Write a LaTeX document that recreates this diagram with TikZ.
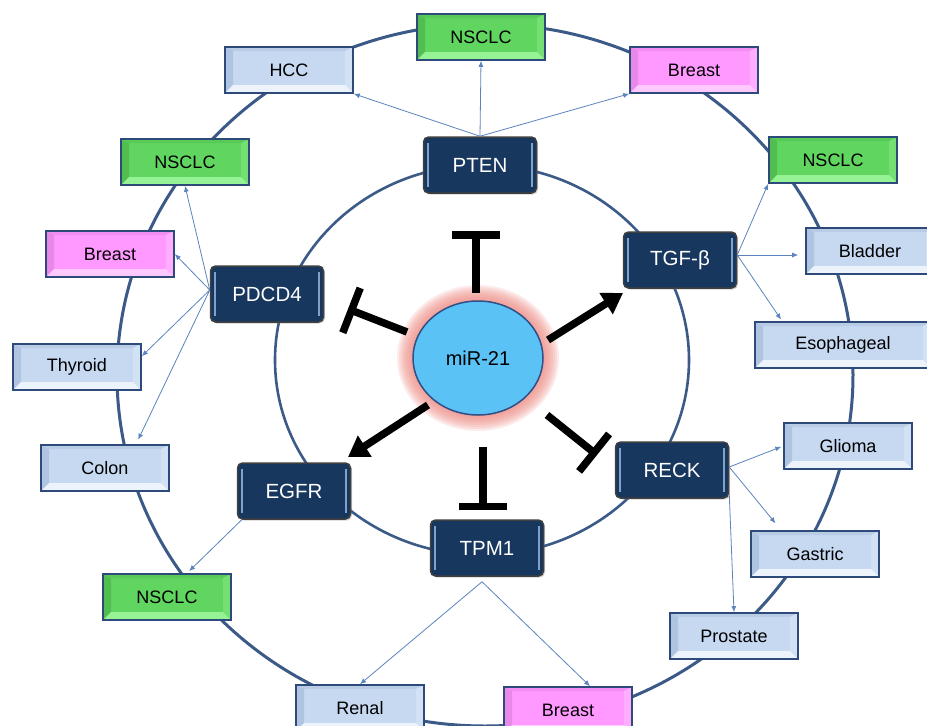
\documentclass[tikz,border=0pt]{standalone}
\usepackage{fontspec}
\setmainfont{Liberation Sans}
\usetikzlibrary{arrows.meta,calc,shapes.geometric,shadows}
\definecolor{ringc}{HTML}{3C5A88}
\definecolor{thinblue}{HTML}{5B84BE}
\definecolor{boxedge}{HTML}{2E4A7A}
\definecolor{navy}{HTML}{17375E}
\definecolor{darkedge}{HTML}{404040}
\definecolor{hlc}{HTML}{7FA2CC}
\definecolor{mirblue}{HTML}{5BC2F6}
\definecolor{miredge}{HTML}{2F4F86}
\definecolor{glowc}{HTML}{F08C84}
\definecolor{bFace}{HTML}{C6D9F1}
\definecolor{bTop}{HTML}{B8CCE5}
\definecolor{bLeft}{HTML}{AEC4E0}
\definecolor{bRight}{HTML}{D2E1F3}
\definecolor{bBot}{HTML}{EDF3FB}
\definecolor{gFace}{HTML}{60D660}
\definecolor{gTop}{HTML}{58CA58}
\definecolor{gLeft}{HTML}{52BE52}
\definecolor{gRight}{HTML}{74E074}
\definecolor{gBot}{HTML}{95F295}
\definecolor{pFace}{HTML}{FF99FF}
\definecolor{pTop}{HTML}{F28EF2}
\definecolor{pLeft}{HTML}{E888E8}
\definecolor{pRight}{HTML}{FFADFF}
\definecolor{pBot}{HTML}{FFC9FF}
\newcommand\mybevel[4]{%
 \fill[#1] (path picture bounding box.north west) -- (path picture bounding box.north east) -- ([shift={(-8pt,-4pt)}]path picture bounding box.north east) -- ([shift={(8pt,-4pt)}]path picture bounding box.north west) -- cycle;
 \fill[#2] (path picture bounding box.north west) -- ([shift={(8pt,-4pt)}]path picture bounding box.north west) -- ([shift={(8pt,8pt)}]path picture bounding box.south west) -- (path picture bounding box.south west) -- cycle;
 \fill[#3] (path picture bounding box.north east) -- ([shift={(-8pt,-4pt)}]path picture bounding box.north east) -- ([shift={(-8pt,8pt)}]path picture bounding box.south east) -- (path picture bounding box.south east) -- cycle;
 \fill[#4] (path picture bounding box.south west) -- ([shift={(8pt,8pt)}]path picture bounding box.south west) -- ([shift={(-8pt,8pt)}]path picture bounding box.south east) -- (path picture bounding box.south east) -- cycle;
}
\tikzset{
 outerbox/.style={rectangle, minimum width=128pt, minimum height=46pt, inner sep=0pt, draw=boxedge, line width=1.6pt, font=\fontsize{18}{20}\selectfont, text=black},
 bluebox/.style={outerbox, fill=bFace, path picture={\mybevel{bTop}{bLeft}{bRight}{bBot}}},
 greenbox/.style={outerbox, fill=gFace, path picture={\mybevel{gTop}{gLeft}{gRight}{gBot}}},
 pinkbox/.style={outerbox, fill=pFace, path picture={\mybevel{pTop}{pLeft}{pRight}{pBot}}},
 darkbox/.style={rectangle, minimum width=113pt, minimum height=56pt, inner sep=0pt, rounded corners=5pt, fill=navy, draw=darkedge, line width=1.5pt, text=white, font=\fontsize{20.5}{22}\selectfont,
   drop shadow={shadow xshift=1.5pt, shadow yshift=-1.5pt, opacity=0.35},
   path picture={
   \draw[hlc, line width=1.3pt] ([shift={(4.5pt,-6pt)}]path picture bounding box.north west) -- ([shift={(4.5pt,6pt)}]path picture bounding box.south west);
   \draw[hlc, line width=1.3pt] ([shift={(-4.5pt,-6pt)}]path picture bounding box.north east) -- ([shift={(-4.5pt,6pt)}]path picture bounding box.south east);}},
 ring/.style={draw=ringc, line width=3pt},
 thinarr/.style={draw=thinblue, line width=0.8pt, -{Latex[length=6pt,width=5pt]}},
 inhib/.style={draw=black, line width=7.5pt, -{Bar[width=48pt]}},
 activ/.style={draw=black, line width=7.5pt, -{Triangle[length=20pt,width=24pt]}}
}
\begin{document}
\begin{tikzpicture}[x=1pt,y=-1pt]
\useasboundingbox (0,0) rectangle (927,726);
\fill[white] (0,0) rectangle (927,726);
% rings
\draw[ring] (485,375) ellipse [x radius=368, y radius=351];
\draw[ring, line width=2.6pt] (482,360) ellipse [x radius=207, y radius=195];
% outer nodes
\node[bluebox] (hcc) at (289,70) {HCC};
\node[greenbox] (nsT) at (481,37) {NSCLC};
\node[pinkbox] (brTR) at (694,70) {Breast};
\node[greenbox] (nsL) at (185,162) {NSCLC};
\node[greenbox] (nsR) at (833,160) {NSCLC};
\node[pinkbox] (brL) at (110,254) {Breast};
\node[bluebox] (bladder) at (870,251) {Bladder};
\node[bluebox, minimum width=176pt] (eso) at (843,345) {Esophageal};
\node[bluebox] (thyroid) at (77,367) {Thyroid};
\node[bluebox] (colon) at (105,468) {Colon};
\node[greenbox] (nsBL) at (167,597) {NSCLC};
\node[bluebox] (renal) at (360,708) {Renal};
\node[pinkbox] (brB) at (568,710) {Breast};
\node[bluebox] (prostate) at (734,636) {Prostate};
\node[bluebox] (gastric) at (815,554) {Gastric};
\node[bluebox] (glioma) at (848,446) {Glioma};
% target nodes
\node[darkbox] (pten) at (480,165) {PTEN};
\node[darkbox] (tgf) at (680,260) {TGF-β};
\node[darkbox] (pdcd4) at (267,294) {PDCD4};
\node[darkbox] (egfr) at (294,491) {EGFR};
\node[darkbox] (tpm1) at (487,548) {TPM1};
\node[darkbox] (reck) at (672,470) {RECK};
% thin arrows
\draw[thinarr] (pten.north) -- (hcc.south east);
\draw[thinarr] (pten.north) -- (nsT.south);
\draw[thinarr] (pten.north) -- (brTR.south west);
\draw[thinarr] ([yshift=5pt]tgf.east) -- (nsR.south west);
\draw[thinarr, shorten >=7pt] ([yshift=5pt]tgf.east) -- ([yshift=-4pt]bladder.west);
\draw[thinarr, shorten >=2pt] ([yshift=5pt]tgf.east) -- ([xshift=28pt]eso.north west);
\draw[thinarr] ([yshift=4pt]pdcd4.west) -- (nsL.south);
\draw[thinarr] ([yshift=4pt]pdcd4.west) -- (brL.east);
\draw[thinarr] ([yshift=4pt]pdcd4.west) -- ([yshift=-13pt]thyroid.north east);
\draw[thinarr, shorten >=5pt] ([yshift=4pt]pdcd4.west) -- ([xshift=31pt]colon.north);
\draw[thinarr, shorten >=3pt] ([xshift=5pt]egfr.south west) -- ([xshift=20pt]nsBL.north);
\draw[thinarr] ([shift={(-5pt,-5pt)}]tpm1.south) -- (renal.north);
\draw[thinarr] ([shift={(-5pt,-5pt)}]tpm1.south) -- ([xshift=22pt]brB.north);
\draw[thinarr, shorten >=2pt] ([yshift=3pt]reck.east) -- (glioma.west);
\draw[thinarr, shorten >=9pt] ([yshift=3pt]reck.east) -- ([xshift=31pt]gastric.north west);
\draw[thinarr] ([yshift=5pt]reck.south east) -- (prostate.north);
% miR-21
\foreach \r in {16,14,...,2}
  \fill[glowc, opacity=0.17] (478,358) ellipse [x radius=65+\r, y radius=57+\r];
\node[ellipse, minimum width=130pt, minimum height=114pt, inner sep=0pt, fill=mirblue, draw=miredge, line width=1.5pt, font=\fontsize{20}{22}\selectfont] (mir) at (478,358) {miR-21};
% thick connectors
\coordinate (a1) at (476,293); \coordinate (b1) at (476,231);
\coordinate (a2) at (407,332); \coordinate (b2) at (348,309);
\coordinate (a3) at (547,415); \coordinate (b3) at (597,455);
\coordinate (a4) at (483,447); \coordinate (b4) at (483,510);
\coordinate (a5) at (548,340); \coordinate (b5) at (623,293);
\coordinate (a6) at (428,405); \coordinate (b6) at (348,457);
\draw[inhib] (a1) -- (b1);
\draw[inhib] (a2) -- (b2);
\draw[inhib] (a3) -- (b3);
\draw[inhib] (a4) -- (b4);
\draw[activ] (a5) -- (b5);
\draw[activ] (a6) -- (b6);
\end{tikzpicture}
\end{document}
